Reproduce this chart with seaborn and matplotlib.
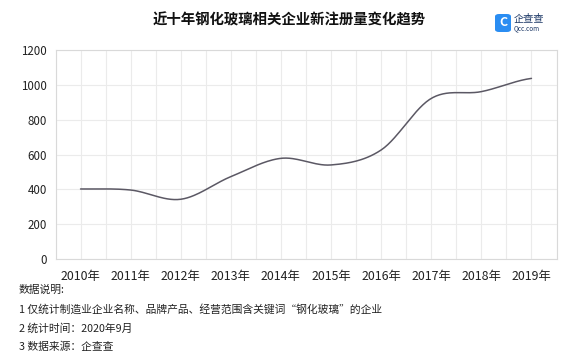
import numpy as np
import pandas as pd
import seaborn as sns
import matplotlib.pyplot as plt
from matplotlib.patches import FancyBboxPatch
from matplotlib.ticker import MultipleLocator

years = ["2010年", "2011年", "2012年", "2013年", "2014年",
         "2015年", "2016年", "2017年", "2018年", "2019年"]
values = [402, 396, 343, 473, 578, 540, 626, 922, 961, 1037]
yticks = [0, 200, 400, 600, 800, 1000, 1200]
title = "近十年钢化玻璃相关企业新注册量变化趋势"
notes = ["数据说明:",
         "1 仅统计制造业企业名称、品牌产品、经营范围含关键词“钢化玻璃”的企业",
         "2 统计时间：2020年9月",
         "3 数据来源：企查查"]

sns.set_theme(style="white")
plt.rcParams['font.family'] = ['Noto Sans CJK SC', 'DejaVu Sans']

fig = plt.figure(figsize=(5.8, 3.61), dpi=100)
W, H = 580, 361
ax = fig.add_axes([55.5 / W, 1 - 259 / H, (556.5 - 55.5) / W, (259 - 50) / H])

# smooth (Catmull-Rom) curve through data points, like a smoothed line chart
x = np.arange(len(values), dtype=float)
y = np.array(values, dtype=float)
xs_list, ys_list = [], []
for i in range(len(x) - 1):
    p0 = y[i - 1] if i > 0 else y[i]
    p1, p2 = y[i], y[i + 1]
    p3 = y[i + 2] if i + 2 < len(y) else y[i + 1]
    t = np.linspace(0, 1, 30, endpoint=(i == len(x) - 2))
    yy = 0.5 * ((2 * p1) + (-p0 + p2) * t + (2 * p0 - 5 * p1 + 4 * p2 - p3) * t ** 2
                + (-p0 + 3 * p1 - 3 * p2 + p3) * t ** 3)
    xs_list.append(x[i] + t)
    ys_list.append(yy)
df = pd.DataFrame({"x": np.concatenate(xs_list), "y": np.concatenate(ys_list)})
sns.lineplot(data=df, x="x", y="y", ax=ax, color="#5b5864", linewidth=1.1)

ax.set_xlim(-0.5, len(values) - 0.5)
ax.set_ylim(0, 1200)
ax.set_xticks(x)
ax.set_xticklabels(years)
ax.set_yticks(yticks)
ax.xaxis.set_minor_locator(MultipleLocator(0.5))
ax.grid(True, which="major", axis="y", color="#ebebeb", linewidth=0.8)
ax.grid(True, which="both", axis="x", color="#ebebeb", linewidth=0.8)
ax.set_axisbelow(True)
ax.set_xlabel("")
ax.set_ylabel("")
for s in ax.spines.values():
    s.set_color("#d9d9d9")
    s.set_linewidth(0.8)
ax.tick_params(axis="both", which="both", length=0, colors="#222222")
ax.tick_params(axis="x", pad=8, labelsize=8.9)
ax.tick_params(axis="y", pad=6, labelsize=8.3)

fig.text(289 / W, 1 - 20 / H, title, ha="center", va="center",
         fontsize=10.4, fontweight="bold", color="#111111")

# logo
logo = FancyBboxPatch((495 / W, 1 - 32 / H), 16 / W, 18 / H,
                      boxstyle="round,pad=0,rounding_size=0.007",
                      transform=fig.transFigure, facecolor="#2a8df2", edgecolor="none")
fig.patches.append(logo)
fig.text(503 / W, 1 - 23 / H, "C", ha="center", va="center", fontsize=9,
         fontweight="bold", color="white")
fig.text(513.5 / W, 1 - 19 / H, "企查查", ha="left", va="center", fontsize=7.3, color="#1f3a68")
fig.text(513.5 / W, 1 - 28.5 / H, "Qcc.com", ha="left", va="center", fontsize=4.6, color="#1f3a68")

ys_notes = [290, 309, 328, 347]
for t, yy in zip(notes, ys_notes):
    fig.text(19 / W, 1 - yy / H, t, ha="left", va="center", fontsize=7.75, color="#222222")

fig.savefig("out.png", dpi=100, facecolor="white")
